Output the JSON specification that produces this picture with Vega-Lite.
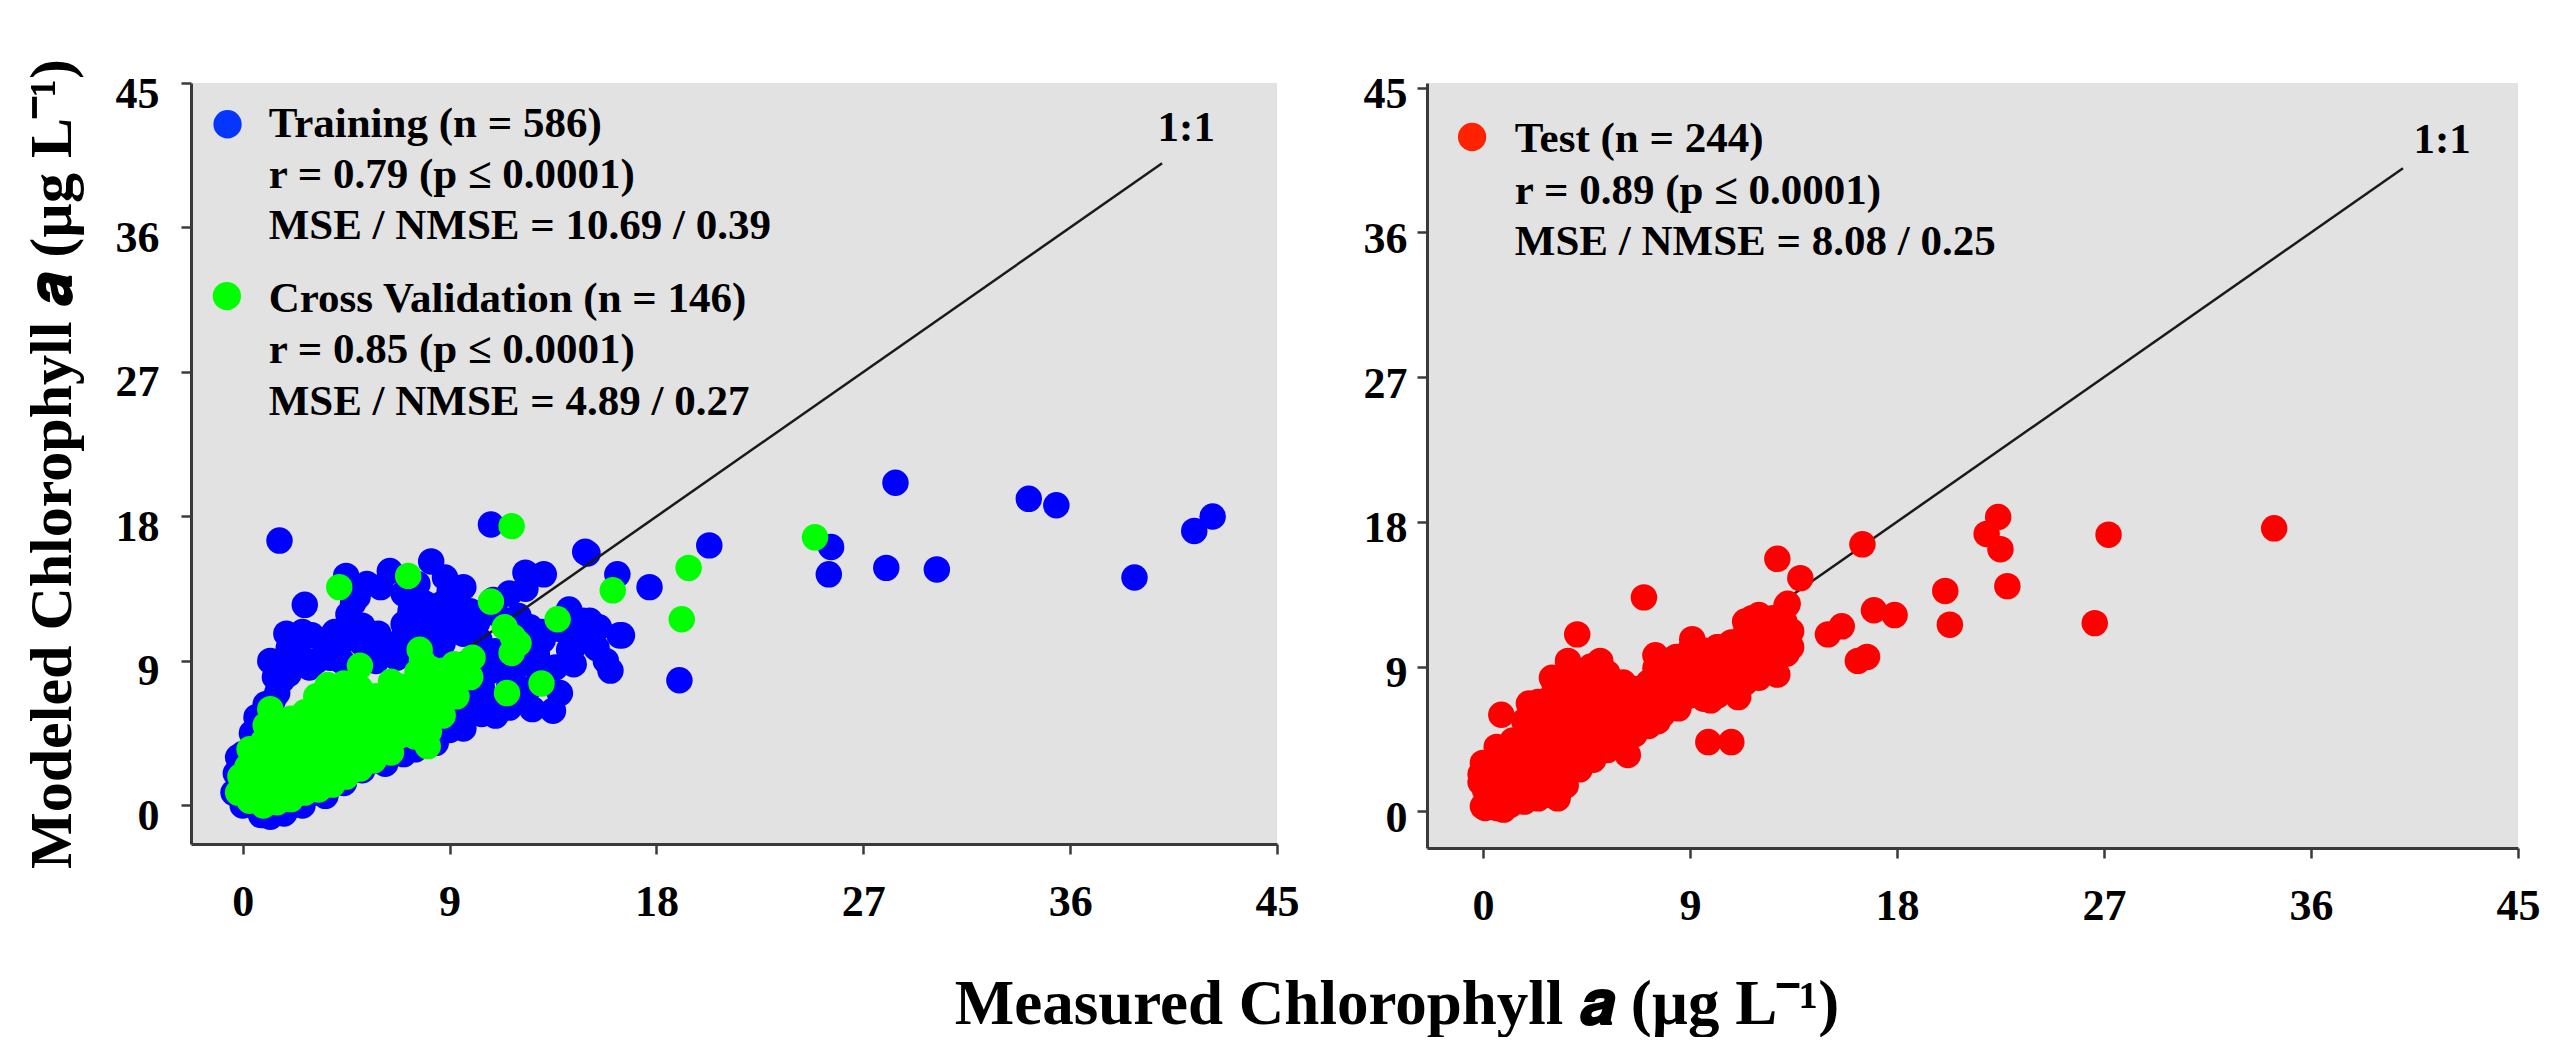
{
  "$schema": "https://vega.github.io/schema/vega-lite/v6.json",
  "background": "white",
  "padding": {"left": 22, "top": 59, "right": 0, "bottom": 0},
  "bounds": "flush",
  "spacing": 150,
  "config": {
    "view": {"stroke": null},
    "font": "Liberation Serif",
    "axis": {
      "grid": false,
      "domainColor": "#3a3a3a",
      "domainWidth": 3,
      "tickColor": "#3a3a3a",
      "tickWidth": 2.5,
      "tickSize": 10,
      "labelFont": "Liberation Serif",
      "labelFontSize": 44,
      "labelFontWeight": "bold",
      "labelColor": "#000000",
      "labelFlush": false,
      "labelOverlap": false,
      "titleFont": "Liberation Serif",
      "titleFontWeight": "bold",
      "titleColor": "#000000"
    }
  },
  "title": {
    "text": "Measured Chlorophyll 𝒂 (µg L⁻¹)",
    "orient": "bottom",
    "anchor": "middle",
    "font": "Liberation Serif",
    "fontSize": 63,
    "fontWeight": "bold",
    "color": "#000000",
    "offset": 46,
    "dx": 116
  },
  "datasets": {
    "training": [
      {"measured": 1.6, "modeled": 16.5}, {"measured": 10.8, "modeled": 17.5}, {"measured": 8.2, "modeled": 15.2}, {"measured": 6.4, "modeled": 14.6},
      {"measured": 5.4, "modeled": 13.8}, {"measured": 4.5, "modeled": 14.3}, {"measured": 2.7, "modeled": 12.5}, {"measured": 1.9, "modeled": 10.7},
      {"measured": 3.0, "modeled": 10.6}, {"measured": 4.6, "modeled": 11.9}, {"measured": 4.7, "modeled": 11.0}, {"measured": 9.0, "modeled": 13.3},
      {"measured": 7.3, "modeled": 12.1}, {"measured": 8.3, "modeled": 11.9}, {"measured": 9.4, "modeled": 12.2}, {"measured": 9.3, "modeled": 11.1},
      {"measured": 10.9, "modeled": 12.8}, {"measured": 12.3, "modeled": 14.5}, {"measured": 13.1, "modeled": 14.4}, {"measured": 12.3, "modeled": 13.5},
      {"measured": 15.0, "modeled": 15.7}, {"measured": 16.3, "modeled": 14.4}, {"measured": 17.7, "modeled": 13.6}, {"measured": 20.3, "modeled": 16.2},
      {"measured": 14.2, "modeled": 12.2}, {"measured": 15.1, "modeled": 11.5}, {"measured": 16.4, "modeled": 10.6}, {"measured": 14.2, "modeled": 9.7},
      {"measured": 16.0, "modeled": 8.4}, {"measured": 19.0, "modeled": 7.8}, {"measured": 13.5, "modeled": 5.9}, {"measured": 12.5, "modeled": 11.1},
      {"measured": 11.6, "modeled": 7.5}, {"measured": 10.4, "modeled": 5.7}, {"measured": 9.0, "modeled": 4.7}, {"measured": 9.3, "modeled": 5.3},
      {"measured": 2.3, "modeled": 8.8}, {"measured": 1.7, "modeled": 7.8}, {"measured": 0.7, "modeled": 5.1}, {"measured": 0.0, "modeled": 2.4},
      {"measured": 1.2, "modeled": -0.7}, {"measured": 4.1, "modeled": 2.0}, {"measured": 2.9, "modeled": 0.7}, {"measured": 5.9, "modeled": 10.7},
      {"measured": 5.8, "modeled": 9.7}, {"measured": 7.0, "modeled": 3.2}, {"measured": 7.8, "modeled": 6.1},
      {"measured": 25.6, "modeled": 16.1}, {"measured": 25.5, "modeled": 14.4}, {"measured": 28.0, "modeled": 14.8}, {"measured": 30.2, "modeled": 14.7},
      {"measured": 28.4, "modeled": 20.1}, {"measured": 34.2, "modeled": 19.1}, {"measured": 35.4, "modeled": 18.7}, {"measured": 38.8, "modeled": 14.2},
      {"measured": 41.4, "modeled": 17.1}, {"measured": 42.2, "modeled": 18.0},
      {"measured": 0.6, "modeled": 5.5}, {"measured": 1.3, "modeled": 6.5}, {"measured": 2.5, "modeled": 9.0}, {"measured": 3.6, "modeled": 9.4},
      {"measured": 4.4, "modeled": 10.3}, {"measured": 4.6, "modeled": 11.3}, {"measured": 6.2, "modeled": 9.5}, {"measured": 7.0, "modeled": 10.5},
      {"measured": 7.8, "modeled": 10.7}, {"measured": 8.7, "modeled": 10.1}, {"measured": 9.6, "modeled": 10.7}, {"measured": 10.3, "modeled": 10.3},
      {"measured": 8.1, "modeled": 12.1}, {"measured": 9.9, "modeled": 12.1}, {"measured": 13.05, "modeled": 10.3}, {"measured": 12.2, "modeled": 9.0},
      {"measured": 12.9, "modeled": 8.2}, {"measured": 13.6, "modeled": 8.6}, {"measured": 14.4, "modeled": 9.9}, {"measured": 14.8, "modeled": 11.5},
      {"measured": 15.5, "modeled": 11.1}, {"measured": 15.8, "modeled": 9.0}, {"measured": 12.2, "modeled": 6.5}, {"measured": 11.6, "modeled": 6.1},
      {"measured": 9.9, "modeled": 6.5}, {"measured": 8.1, "modeled": 4.5}, {"measured": 5.8, "modeled": 2.8}, {"measured": 4.6, "modeled": 2.4},
      {"measured": 3.2, "modeled": 1.1}, {"measured": 2.0, "modeled": -0.1}, {"measured": 0.3, "modeled": 0.1}, {"measured": -0.3, "modeled": 2.0},
      {"measured": 0.0, "modeled": 3.2}, {"measured": 0.4, "modeled": 4.5}, {"measured": 3.5, "modeled": 10.3}, {"measured": 5.2, "modeled": 10.1},
      {"measured": 7.5, "modeled": 10.3}, {"measured": 8.4, "modeled": 9.2}, {"measured": 10.7, "modeled": 8.6}, {"measured": 11.5, "modeled": 8.6},
      {"measured": 10.4, "modeled": 7.4}, {"measured": 9.6, "modeled": 6.1}, {"measured": 2.0, "modeled": 8.2}, {"measured": 2.9, "modeled": 8.6},
      {"measured": 3.8, "modeled": 9.2}, {"measured": 4.3, "modeled": 9.0}, {"measured": 5.8, "modeled": 9.0}, {"measured": 6.7, "modeled": 9.2},
      {"measured": -0.2, "modeled": 3.0}, {"measured": 1.0, "modeled": 6.3}, {"measured": 1.5, "modeled": 7.0}, {"measured": 3.2, "modeled": 9.0},
      {"measured": 4.0, "modeled": 10.8}, {"measured": 5.2, "modeled": 11.2}, {"measured": 4.8, "modeled": 12.6}, {"measured": 2.4, "modeled": 9.6},
      {"measured": 1.4, "modeled": 8.0}, {"measured": 11.0, "modeled": 9.6}, {"measured": 10.8, "modeled": 8.4}, {"measured": 11.0, "modeled": 6.4},
      {"measured": 11.8, "modeled": 8.4}, {"measured": 12.4, "modeled": 7.2}, {"measured": 12.8, "modeled": 9.4}, {"measured": 13.8, "modeled": 7.0},
      {"measured": 12.6, "modeled": 6.0}, {"measured": 14.4, "modeled": 8.8}, {"measured": 14.8, "modeled": 10.4}, {"measured": 15.4, "modeled": 9.8},
      {"measured": 13.0, "modeled": 10.8}, {"measured": 12.0, "modeled": 11.8}, {"measured": 11.0, "modeled": 12.0}, {"measured": 7.0, "modeled": 11.3},
      {"measured": 7.9, "modeled": 12.6}, {"measured": 8.6, "modeled": 12.5}, {"measured": 9.6, "modeled": 4.8}, {"measured": 8.4, "modeled": 3.9},
      {"measured": 7.5, "modeled": 3.5}, {"measured": 6.2, "modeled": 2.6}, {"measured": 5.2, "modeled": 2.2}, {"measured": 4.4, "modeled": 1.4},
      {"measured": 3.6, "modeled": 0.6}, {"measured": 2.6, "modeled": 0.0}, {"measured": 1.8, "modeled": -0.5}, {"measured": 0.8, "modeled": -0.6},
      {"measured": 0.0, "modeled": 0.0}, {"measured": -0.4, "modeled": 0.8}, {"measured": 9.8, "modeled": 5.8}, {"measured": 11.0, "modeled": 5.6},
      {"measured": 16.5, "modeled": 10.6}, {"measured": 14.9, "modeled": 15.8},
      {"measured": 1.2, "modeled": 9.0}, {"measured": 2.0, "modeled": 9.8}, {"measured": 2.6, "modeled": 10.8}, {"measured": 5.0, "modeled": 13.0},
      {"measured": 6.0, "modeled": 13.6}, {"measured": 7.0, "modeled": 13.2}, {"measured": 7.6, "modeled": 13.8}, {"measured": 8.8, "modeled": 14.2},
      {"measured": 9.6, "modeled": 13.6}, {"measured": 10.2, "modeled": 11.4}, {"measured": 8.8, "modeled": 11.2}, {"measured": 6.0, "modeled": 10.0},
      {"measured": 6.8, "modeled": 9.9}, {"measured": 10.0, "modeled": 11.6}, {"measured": 11.6, "modeled": 13.2}, {"measured": 13.8, "modeled": 11.0}
    ],
    "cv": [
      {"measured": 11.7, "modeled": 17.4}, {"measured": 7.2, "modeled": 14.3}, {"measured": 4.2, "modeled": 13.6}, {"measured": 10.8, "modeled": 12.7},
      {"measured": 16.1, "modeled": 13.4}, {"measured": 19.4, "modeled": 14.8}, {"measured": 19.1, "modeled": 11.6}, {"measured": 13.7, "modeled": 11.6},
      {"measured": 11.4, "modeled": 11.1}, {"measured": 11.75, "modeled": 10.5}, {"measured": 12.0, "modeled": 10.1}, {"measured": 11.7, "modeled": 9.5},
      {"measured": 11.5, "modeled": 7.0}, {"measured": 13.0, "modeled": 7.6}, {"measured": 10.0, "modeled": 9.2}, {"measured": 9.7, "modeled": 8.6},
      {"measured": 7.7, "modeled": 9.7}, {"measured": 7.8, "modeled": 9.0}, {"measured": 5.1, "modeled": 8.7}, {"measured": 3.7, "modeled": 7.5},
      {"measured": 1.2, "modeled": 6.0}, {"measured": 6.45, "modeled": 7.7}, {"measured": 6.45, "modeled": 3.3}, {"measured": 8.05, "modeled": 3.7},
      {"measured": 5.2, "modeled": 6.75}, {"measured": 24.9, "modeled": 16.7},
      {"measured": -0.2, "modeled": 0.8}, {"measured": -0.1, "modeled": 1.8},
      {"measured": 0.3, "modeled": 0.3}, {"measured": 0.4, "modeled": 1.3}, {"measured": 0.2, "modeled": 2.4}, {"measured": 0.3, "modeled": 3.5},
      {"measured": 0.9, "modeled": 0.0}, {"measured": 1.0, "modeled": 1.0}, {"measured": 0.8, "modeled": 2.0}, {"measured": 0.9, "modeled": 3.1}, {"measured": 0.9, "modeled": 4.0}, {"measured": 1.0, "modeled": 5.0},
      {"measured": 1.5, "modeled": 0.2}, {"measured": 1.6, "modeled": 1.2}, {"measured": 1.4, "modeled": 2.2}, {"measured": 1.5, "modeled": 3.2}, {"measured": 1.6, "modeled": 4.2}, {"measured": 1.5, "modeled": 5.2},
      {"measured": 2.1, "modeled": 0.4}, {"measured": 2.2, "modeled": 1.4}, {"measured": 2.0, "modeled": 2.4}, {"measured": 2.1, "modeled": 3.4}, {"measured": 2.2, "modeled": 4.4}, {"measured": 2.1, "modeled": 5.4},
      {"measured": 2.7, "modeled": 0.8}, {"measured": 2.8, "modeled": 1.8}, {"measured": 2.6, "modeled": 2.8}, {"measured": 2.7, "modeled": 3.8}, {"measured": 2.8, "modeled": 4.8}, {"measured": 2.7, "modeled": 5.8},
      {"measured": 3.3, "modeled": 1.0}, {"measured": 3.4, "modeled": 2.0}, {"measured": 3.2, "modeled": 3.0}, {"measured": 3.3, "modeled": 4.0}, {"measured": 3.4, "modeled": 5.0}, {"measured": 3.3, "modeled": 6.0}, {"measured": 3.2, "modeled": 6.8},
      {"measured": 3.9, "modeled": 1.3}, {"measured": 4.0, "modeled": 2.3}, {"measured": 3.8, "modeled": 3.3}, {"measured": 3.9, "modeled": 4.3}, {"measured": 4.0, "modeled": 5.3}, {"measured": 3.9, "modeled": 6.3}, {"measured": 3.9, "modeled": 7.2},
      {"measured": 4.5, "modeled": 1.8}, {"measured": 4.6, "modeled": 2.8}, {"measured": 4.4, "modeled": 3.8}, {"measured": 4.5, "modeled": 4.8}, {"measured": 4.6, "modeled": 5.8}, {"measured": 4.5, "modeled": 6.8}, {"measured": 4.4, "modeled": 7.6},
      {"measured": 5.1, "modeled": 2.3}, {"measured": 5.2, "modeled": 3.3}, {"measured": 5.0, "modeled": 4.3}, {"measured": 5.1, "modeled": 5.3}, {"measured": 5.2, "modeled": 6.3}, {"measured": 5.1, "modeled": 7.3},
      {"measured": 5.7, "modeled": 2.8}, {"measured": 5.8, "modeled": 3.8}, {"measured": 5.6, "modeled": 4.8}, {"measured": 5.7, "modeled": 5.8}, {"measured": 5.8, "modeled": 6.8},
      {"measured": 6.3, "modeled": 3.8}, {"measured": 6.4, "modeled": 4.8}, {"measured": 6.2, "modeled": 5.8}, {"measured": 6.3, "modeled": 6.8},
      {"measured": 6.9, "modeled": 4.4}, {"measured": 7.0, "modeled": 5.4}, {"measured": 6.8, "modeled": 6.4}, {"measured": 6.9, "modeled": 7.4},
      {"measured": 7.5, "modeled": 4.3}, {"measured": 7.6, "modeled": 5.3}, {"measured": 7.4, "modeled": 6.3}, {"measured": 7.5, "modeled": 7.3}, {"measured": 7.6, "modeled": 8.3},
      {"measured": 8.1, "modeled": 4.6}, {"measured": 8.2, "modeled": 5.6}, {"measured": 8.0, "modeled": 6.6}, {"measured": 8.1, "modeled": 7.6}, {"measured": 8.2, "modeled": 8.5},
      {"measured": 8.7, "modeled": 5.6}, {"measured": 8.8, "modeled": 6.6}, {"measured": 8.6, "modeled": 7.6}, {"measured": 8.7, "modeled": 8.4},
      {"measured": 9.3, "modeled": 6.8}, {"measured": 9.4, "modeled": 7.8}, {"measured": 9.2, "modeled": 8.8},
      {"measured": 9.9, "modeled": 8.0}
    ],
    "test": [
      {"measured": 7.0, "modeled": 13.3}, {"measured": 4.1, "modeled": 11.0}, {"measured": 0.8, "modeled": 6.0}, {"measured": 2.0, "modeled": 6.7},
      {"measured": 12.8, "modeled": 15.7}, {"measured": 13.8, "modeled": 14.5}, {"measured": 16.5, "modeled": 16.6}, {"measured": 20.1, "modeled": 13.7},
      {"measured": 20.3, "modeled": 11.6}, {"measured": 17.9, "modeled": 12.2}, {"measured": 17.0, "modeled": 12.5}, {"measured": 15.0, "modeled": 11.0},
      {"measured": 15.6, "modeled": 11.5}, {"measured": 16.7, "modeled": 9.6}, {"measured": 16.3, "modeled": 9.35}, {"measured": 13.25, "modeled": 12.9},
      {"measured": 13.4, "modeled": 11.2}, {"measured": 13.4, "modeled": 10.2}, {"measured": 11.7, "modeled": 12.0}, {"measured": 9.1, "modeled": 10.7},
      {"measured": 10.2, "modeled": 10.2}, {"measured": 7.5, "modeled": 9.7}, {"measured": 7.5, "modeled": 8.9}, {"measured": 5.1, "modeled": 9.35},
      {"measured": 3.7, "modeled": 9.35}, {"measured": 3.0, "modeled": 8.3}, {"measured": 9.8, "modeled": 4.3}, {"measured": 10.8, "modeled": 4.3},
      {"measured": 9.9, "modeled": 6.9}, {"measured": 11.1, "modeled": 7.1}, {"measured": 12.8, "modeled": 8.5}, {"measured": 9.05, "modeled": 8.5},
      {"measured": 8.5, "modeled": 6.4}, {"measured": 7.6, "modeled": 5.6}, {"measured": 6.3, "modeled": 3.5}, {"measured": 3.25, "modeled": 0.8},
      {"measured": 0.1, "modeled": 0.2}, {"measured": 0.9, "modeled": 0.1}, {"measured": 0.2, "modeled": 2.9}, {"measured": -0.1, "modeled": 1.8},
      {"measured": 22.4, "modeled": 18.3}, {"measured": 21.9, "modeled": 17.25}, {"measured": 22.5, "modeled": 16.3}, {"measured": 22.8, "modeled": 14.0},
      {"measured": 27.2, "modeled": 17.2}, {"measured": 26.6, "modeled": 11.7}, {"measured": 34.4, "modeled": 17.6},
      {"measured": 0.0, "modeled": 0.3}, {"measured": 0.1, "modeled": 1.3}, {"measured": -0.1, "modeled": 2.3}, {"measured": 0.0, "modeled": 3.0},
      {"measured": 0.6, "modeled": 0.2}, {"measured": 0.7, "modeled": 1.2}, {"measured": 0.5, "modeled": 2.2}, {"measured": 0.6, "modeled": 3.2}, {"measured": 0.6, "modeled": 4.0},
      {"measured": 1.2, "modeled": 0.4}, {"measured": 1.3, "modeled": 1.4}, {"measured": 1.1, "modeled": 2.4}, {"measured": 1.2, "modeled": 3.4}, {"measured": 1.3, "modeled": 4.4},
      {"measured": 1.8, "modeled": 0.6}, {"measured": 1.9, "modeled": 1.6}, {"measured": 1.7, "modeled": 2.6}, {"measured": 1.8, "modeled": 3.6}, {"measured": 1.9, "modeled": 4.6}, {"measured": 1.8, "modeled": 5.6},
      {"measured": 2.4, "modeled": 0.8}, {"measured": 2.5, "modeled": 1.8}, {"measured": 2.3, "modeled": 2.8}, {"measured": 2.4, "modeled": 3.8}, {"measured": 2.5, "modeled": 4.8}, {"measured": 2.4, "modeled": 5.8}, {"measured": 2.4, "modeled": 6.8},
      {"measured": 3.0, "modeled": 1.0}, {"measured": 3.1, "modeled": 2.0}, {"measured": 2.9, "modeled": 3.0}, {"measured": 3.0, "modeled": 4.0}, {"measured": 3.1, "modeled": 5.0}, {"measured": 3.0, "modeled": 6.0}, {"measured": 2.9, "modeled": 7.0}, {"measured": 3.1, "modeled": 8.0},
      {"measured": 3.6, "modeled": 1.6}, {"measured": 3.7, "modeled": 2.6}, {"measured": 3.5, "modeled": 3.6}, {"measured": 3.6, "modeled": 4.6}, {"measured": 3.7, "modeled": 5.6}, {"measured": 3.6, "modeled": 6.6}, {"measured": 3.5, "modeled": 7.6}, {"measured": 3.6, "modeled": 8.6},
      {"measured": 4.2, "modeled": 2.6}, {"measured": 4.3, "modeled": 3.6}, {"measured": 4.1, "modeled": 4.6}, {"measured": 4.2, "modeled": 5.6}, {"measured": 4.3, "modeled": 6.6}, {"measured": 4.2, "modeled": 7.6}, {"measured": 4.1, "modeled": 8.6},
      {"measured": 4.8, "modeled": 3.2}, {"measured": 4.9, "modeled": 4.2}, {"measured": 4.7, "modeled": 5.2}, {"measured": 4.8, "modeled": 6.2}, {"measured": 4.9, "modeled": 7.2}, {"measured": 4.8, "modeled": 8.2}, {"measured": 4.7, "modeled": 9.0},
      {"measured": 5.4, "modeled": 3.8}, {"measured": 5.5, "modeled": 4.8}, {"measured": 5.3, "modeled": 5.8}, {"measured": 5.4, "modeled": 6.8}, {"measured": 5.5, "modeled": 7.8}, {"measured": 5.4, "modeled": 8.6},
      {"measured": 6.0, "modeled": 4.2}, {"measured": 6.1, "modeled": 5.2}, {"measured": 5.9, "modeled": 6.2}, {"measured": 6.0, "modeled": 7.2}, {"measured": 6.1, "modeled": 8.0},
      {"measured": 6.6, "modeled": 4.8}, {"measured": 6.7, "modeled": 5.8}, {"measured": 6.5, "modeled": 6.8}, {"measured": 6.6, "modeled": 7.6},
      {"measured": 7.2, "modeled": 5.3}, {"measured": 7.3, "modeled": 6.3}, {"measured": 7.1, "modeled": 7.3}, {"measured": 7.2, "modeled": 8.0},
      {"measured": 7.8, "modeled": 6.0}, {"measured": 7.9, "modeled": 7.0}, {"measured": 7.7, "modeled": 8.0}, {"measured": 7.8, "modeled": 9.0},
      {"measured": 8.4, "modeled": 6.6}, {"measured": 8.5, "modeled": 7.6}, {"measured": 8.3, "modeled": 8.6}, {"measured": 8.4, "modeled": 9.6},
      {"measured": 9.0, "modeled": 7.2}, {"measured": 9.1, "modeled": 8.2}, {"measured": 8.9, "modeled": 9.2}, {"measured": 9.0, "modeled": 10.0},
      {"measured": 9.6, "modeled": 7.0}, {"measured": 9.7, "modeled": 8.0}, {"measured": 9.5, "modeled": 9.0}, {"measured": 9.6, "modeled": 10.0},
      {"measured": 10.2, "modeled": 7.2}, {"measured": 10.3, "modeled": 8.2}, {"measured": 10.1, "modeled": 9.2}, {"measured": 10.2, "modeled": 10.2},
      {"measured": 10.8, "modeled": 7.5}, {"measured": 10.9, "modeled": 8.5}, {"measured": 10.7, "modeled": 9.5}, {"measured": 10.8, "modeled": 10.5},
      {"measured": 11.4, "modeled": 8.0}, {"measured": 11.5, "modeled": 9.0}, {"measured": 11.3, "modeled": 10.0}, {"measured": 11.4, "modeled": 11.0}, {"measured": 11.4, "modeled": 11.8},
      {"measured": 12.0, "modeled": 8.3}, {"measured": 12.1, "modeled": 9.3}, {"measured": 11.9, "modeled": 10.3}, {"measured": 12.0, "modeled": 11.3}, {"measured": 12.0, "modeled": 12.2},
      {"measured": 12.6, "modeled": 9.0}, {"measured": 12.7, "modeled": 10.0}, {"measured": 12.5, "modeled": 11.0}, {"measured": 12.6, "modeled": 12.0},
      {"measured": 13.2, "modeled": 9.8}, {"measured": 13.3, "modeled": 10.8}, {"measured": 13.1, "modeled": 11.8}, {"measured": 13.2, "modeled": 12.8}
    ],
    "oneToOne": [{"measured": 0, "modeled": 0}, {"measured": 40, "modeled": 40}]
  },
  "hconcat": [
    {
      "width": 1086,
      "height": 761,
      "view": {"fill": "#E2E2E2", "stroke": null},
      "layer": [
        {
          "data": {"name": "training"},
          "mark": {"type": "circle", "size": 700, "opacity": 1, "color": "#0000FF"},
          "encoding": {
            "x": {"field": "measured", "type": "quantitative", "scale": {"domain": [-2.25, 45], "nice": false, "zero": false},
                  "axis": {"values": [0, 9, 18, 27, 36, 45], "title": null, "labelPadding": 26}},
            "y": {"field": "modeled", "type": "quantitative", "scale": {"domain": [-2.4, 45], "nice": false, "zero": false},
                  "axis": {"values": [0, 9, 18, 27, 36, 45], "title": "Modeled Chlorophyll 𝒂 (µg L⁻¹)", "titleFontSize": 60, "titlePadding": 32, "labelPadding": 22, "labelOffset": 11}}
          }
        },
        {
          "data": {"name": "oneToOne"},
          "mark": {"type": "line", "color": "#1a1a1a", "strokeWidth": 2.5},
          "encoding": {"x": {"field": "measured", "type": "quantitative"}, "y": {"field": "modeled", "type": "quantitative"}}
        },
        {
          "data": {"name": "cv"},
          "mark": {"type": "circle", "size": 700, "opacity": 1, "color": "#00FF00"},
          "encoding": {"x": {"field": "measured", "type": "quantitative"}, "y": {"field": "modeled", "type": "quantitative"}}
        },
        {
          "data": {"values": [{}]},
          "mark": {"type": "text", "text": "1:1", "font": "Liberation Serif", "fontWeight": "bold", "fontSize": 43, "align": "center", "baseline": "middle", "color": "#000000"},
          "encoding": {"x": {"datum": 41.05, "type": "quantitative"}, "y": {"datum": 42.2, "type": "quantitative"}}
        },
        {
          "data": {"values": [{}]},
          "mark": {"type": "circle", "size": 800, "opacity": 1, "color": "#0536FF"},
          "encoding": {"x": {"datum": -0.66, "type": "quantitative"}, "y": {"datum": 42.43, "type": "quantitative"}}
        },
        {
          "data": {"values": [{}]},
          "mark": {"type": "circle", "size": 800, "opacity": 1, "color": "#00FF00"},
          "encoding": {"x": {"datum": -0.69, "type": "quantitative"}, "y": {"datum": 31.73, "type": "quantitative"}}
        },
        {
          "data": {"values": [{}]},
          "mark": {"type": "text", "text": ["Training (n = 586)", "r = 0.79 (p ≤ 0.0001)", "MSE / NMSE = 10.69 / 0.39"], "lineHeight": 51, "font": "Liberation Serif", "fontWeight": "bold", "fontSize": 43, "align": "left", "baseline": "middle", "color": "#000000"},
          "encoding": {"x": {"datum": 1.13, "type": "quantitative"}, "y": {"datum": 42.46, "type": "quantitative"}}
        },
        {
          "data": {"values": [{}]},
          "mark": {"type": "text", "text": ["Cross Validation (n = 146)", "r = 0.85 (p ≤ 0.0001)", "MSE / NMSE = 4.89 / 0.27"], "lineHeight": 51.5, "font": "Liberation Serif", "fontWeight": "bold", "fontSize": 43, "align": "left", "baseline": "middle", "color": "#000000"},
          "encoding": {"x": {"datum": 1.13, "type": "quantitative"}, "y": {"datum": 31.56, "type": "quantitative"}}
        }
      ]
    },
    {
      "width": 1091,
      "height": 765,
      "view": {"fill": "#E2E2E2", "stroke": null},
      "layer": [
        {
          "data": {"name": "oneToOne"},
          "mark": {"type": "line", "color": "#1a1a1a", "strokeWidth": 2.5},
          "encoding": {
            "x": {"field": "measured", "type": "quantitative", "scale": {"domain": [-2.43, 45], "nice": false, "zero": false},
                  "axis": {"values": [0, 9, 18, 27, 36, 45], "title": null, "labelPadding": 26}},
            "y": {"field": "modeled", "type": "quantitative", "scale": {"domain": [-2.29, 45.3], "nice": false, "zero": false},
                  "axis": {"values": [0, 9, 18, 27, 36, 45], "title": null, "labelPadding": 10, "labelOffset": 7}}
          }
        },
        {
          "data": {"name": "test"},
          "mark": {"type": "circle", "size": 700, "opacity": 1, "color": "#FF0000"},
          "encoding": {"x": {"field": "measured", "type": "quantitative"}, "y": {"field": "modeled", "type": "quantitative"}}
        },
        {
          "data": {"values": [{}]},
          "mark": {"type": "text", "text": "1:1", "font": "Liberation Serif", "fontWeight": "bold", "fontSize": 43, "align": "center", "baseline": "middle", "color": "#000000"},
          "encoding": {"x": {"datum": 41.7, "type": "quantitative"}, "y": {"datum": 41.77, "type": "quantitative"}}
        },
        {
          "data": {"values": [{}]},
          "mark": {"type": "circle", "size": 800, "opacity": 1, "color": "#FF2200"},
          "encoding": {"x": {"datum": -0.47, "type": "quantitative"}, "y": {"datum": 41.94, "type": "quantitative"}}
        },
        {
          "data": {"values": [{}]},
          "mark": {"type": "text", "text": ["Test (n = 244)", "r = 0.89 (p ≤ 0.0001)", "MSE / NMSE = 8.08 / 0.25"], "lineHeight": 51.5, "font": "Liberation Serif", "fontWeight": "bold", "fontSize": 43, "align": "left", "baseline": "middle", "color": "#000000"},
          "encoding": {"x": {"datum": 1.39, "type": "quantitative"}, "y": {"datum": 41.81, "type": "quantitative"}}
        }
      ]
    }
  ]
}
